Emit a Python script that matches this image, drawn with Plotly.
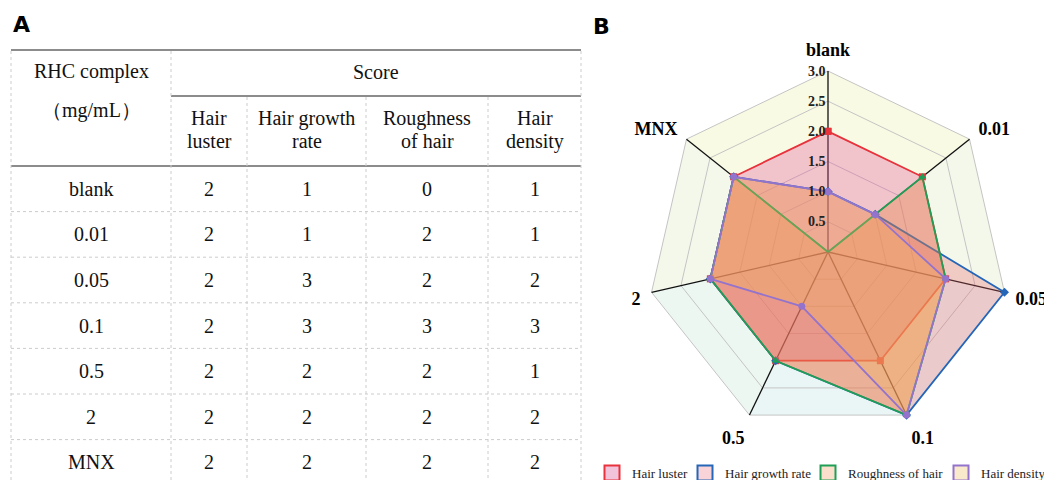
import math
import plotly.graph_objects as go

# doses (radar axes / table rows) and scores per criterion
doses = ["blank", "0.01", "0.05", "0.1", "0.5", "2", "MNX"]
hair_luster = [2, 2, 2, 2, 2, 2, 2]
hair_growth_rate = [1, 1, 3, 3, 2, 2, 2]
roughness_of_hair = [0, 2, 2, 3, 2, 2, 2]
hair_density = [1, 1, 2, 3, 1, 2, 2]

series_names = ["Hair luster", "Hair growth rate", "Roughness of hair", "Hair density"]
header_lines = [("Hair", "luster"), ("Hair growth", "rate"), ("Roughness", "of hair"), ("Hair", "density")]
radial_ticks = [0.5, 1.0, 1.5, 2.0, 2.5, 3.0]

line_colors = ["#e8323c", "#2566b8", "#1f9e55", "#9473cc"]
fill_colors = ["rgba(224,85,155,0.33)", "rgba(230,100,110,0.30)",
               "rgba(236,135,65,0.38)", "rgba(240,180,95,0.34)"]
legend_fills = ["#f2c4dc", "#f8d4d8", "#fae0cc", "#faeacc"]
symbols = ["square", "diamond", "triangle-up", "circle"]
legend_x = [584, 677, 800, 933]   # left edge of each legend entry, px

serif = "Liberation Serif, Times New Roman, serif"
rmax = 3.0
r_outer = 3.18   # extra room so the category labels sit away from the heptagon

fig = go.Figure()

# ---- panel B: radar ----
closed = doses + [doses[0]]
n = len(doses)


def lerp(c1, c2, t):
    return "rgb(%d,%d,%d)" % tuple(round(a + (b - a) * t) for a, b in zip(c1, c2))


top_col = (250, 250, 226)
bot_col = (234, 246, 246)
for i in range(n):
    mid = (i + 0.5) * 2 * math.pi / n
    t = (1 - math.cos(mid)) / 2
    fig.add_trace(go.Scatterpolar(
        r=[rmax, rmax, 0], theta=[doses[i], doses[(i + 1) % n], doses[i]],
        mode="lines", fill="toself", fillcolor=lerp(top_col, bot_col, t),
        line=dict(width=0), showlegend=False, hoverinfo="skip"))

for v in radial_ticks:
    fig.add_trace(go.Scatterpolar(
        r=[v] * (n + 1), theta=closed, mode="lines",
        line=dict(color="#c4c4c4", width=1), showlegend=False, hoverinfo="skip"))

for d in doses:
    fig.add_trace(go.Scatterpolar(
        r=[0, rmax], theta=[d, d], mode="lines",
        line=dict(color="#111111", width=1.3), showlegend=False, hoverinfo="skip"))

all_series = [hair_luster, hair_growth_rate, roughness_of_hair, hair_density]
for name, vals, lc, fc, sym in zip(series_names, all_series, line_colors, fill_colors, symbols):
    fig.add_trace(go.Scatterpolar(
        r=vals + [vals[0]], theta=closed, name=name, mode="lines+markers",
        fill="toself", fillcolor=fc, line=dict(color=lc, width=1.8),
        marker=dict(symbol=sym, size=7, color=lc), showlegend=False))

# legend-only entries (box with coloured edge), one legend each so they can be spaced
W, H = 1052, 480
legend_cfg = {}
for k, (name, lc, lf) in enumerate(zip(series_names, line_colors, legend_fills)):
    key = "legend" if k == 0 else "legend%d" % (k + 1)
    fig.add_trace(go.Scatter(
        x=[None], y=[None], name=name, mode="markers", legend=key,
        marker=dict(symbol="square", size=15, color=lf, line=dict(color=lc, width=2))))
    legend_cfg[key] = dict(x=legend_x[k] / W, xanchor="left", y=0.0, yanchor="bottom",
                           font=dict(family=serif, size=13, color="#222222"),
                           bgcolor="rgba(0,0,0,0)", itemwidth=30)

# ---- panel A: table drawn on a hidden cartesian axis ----
col_edges = [3, 163, 239, 358, 480, 573]
y_top, y_mid, y_head = 42, 88, 158
row_h = 45.6
table_rows = list(zip(doses, hair_luster, hair_growth_rate, roughness_of_hair, hair_density))
y_bottom = y_head + row_h * len(table_rows)

shapes = []
solid = dict(color="#666666", width=1.6)
dotted = dict(color="#cccccc", width=1, dash="dot")
for y in [y_top, y_head, y_bottom]:
    shapes.append(dict(type="line", xref="x", yref="y", x0=col_edges[0], x1=col_edges[-1],
                       y0=y, y1=y, line=solid))
shapes.append(dict(type="line", xref="x", yref="y", x0=col_edges[1], x1=col_edges[-1],
                   y0=y_mid, y1=y_mid, line=solid))
for k in range(1, len(table_rows)):
    y = y_head + row_h * k
    shapes.append(dict(type="line", xref="x", yref="y", x0=col_edges[0], x1=col_edges[-1],
                       y0=y, y1=y, line=dotted))
for j, x in enumerate(col_edges):
    y0 = y_top if j in (0, 1, len(col_edges) - 1) else y_mid
    shapes.append(dict(type="line", xref="x", yref="y", x0=x, x1=x,
                       y0=y0 + 1, y1=y_bottom - 1, line=dotted))

annotations = []


def cell(x, y, text, size=20):
    annotations.append(dict(x=x, y=y, xref="x", yref="y", text=text, showarrow=False,
                            font=dict(family=serif, size=size, color="#111111"),
                            xanchor="center", yanchor="middle"))


cx0 = (col_edges[0] + col_edges[1]) / 2
cell(cx0, 63, "RHC complex")
cell(cx0, 102, "（mg/mL）")
cell((col_edges[1] + col_edges[-1]) / 2, 64, "Score")
for j, (l1, l2) in enumerate(header_lines):
    xc = (col_edges[j + 1] + col_edges[j + 2]) / 2
    cell(xc, 110, l1)
    cell(xc, 133, l2)
for i, row in enumerate(table_rows):
    yc = y_head + row_h * (i + 0.5)
    for j, v in enumerate(row):
        cell((col_edges[j] + col_edges[j + 1]) / 2, yc, str(v))

annotations.append(dict(x=3, y=2, xref="x", yref="y", text="<b>A</b>", showarrow=False,
                        xanchor="left", yanchor="top",
                        font=dict(family="DejaVu Sans, Arial", size=22, color="black")))
annotations.append(dict(x=583, y=4, xref="x", yref="y", text="<b>B</b>", showarrow=False,
                        xanchor="left", yanchor="top",
                        font=dict(family="DejaVu Sans, Arial", size=22, color="black")))

cxp, cy = 820, 244
rad = 181 * r_outer / rmax
fig.update_layout(
    width=W, height=H,
    margin=dict(l=0, r=0, t=0, b=0),
    paper_bgcolor="white", plot_bgcolor="white",
    xaxis=dict(range=[0, W], domain=[0, 1], visible=False, fixedrange=True),
    yaxis=dict(range=[H, 0], domain=[0, 1], visible=False, fixedrange=True),
    shapes=shapes, annotations=annotations,
    polar=dict(
        domain=dict(x=[(cxp - rad) / W, (cxp + rad) / W],
                    y=[(H - cy - rad) / H, (H - cy + rad) / H]),
        gridshape="linear", bgcolor="rgba(0,0,0,0)",
        radialaxis=dict(range=[0, r_outer], angle=90, tickangle=90, tickvals=radial_ticks,
                        ticktext=["%.1f" % v for v in radial_ticks],
                        showgrid=False, showline=False, ticks="",
                        side="counterclockwise", layer="above traces",
                        tickfont=dict(family=serif, size=14, color="#222222")),
        angularaxis=dict(rotation=90, direction="clockwise", showgrid=False,
                         showline=False, ticks="", categoryarray=doses,
                         tickfont=dict(family=serif, size=18, color="black")),
    ),
    font=dict(family=serif),
    **legend_cfg,
)
fig.update_polars(radialaxis_tickfont_weight="bold", angularaxis_tickfont_weight="bold")

fig.write_html("out.html")
